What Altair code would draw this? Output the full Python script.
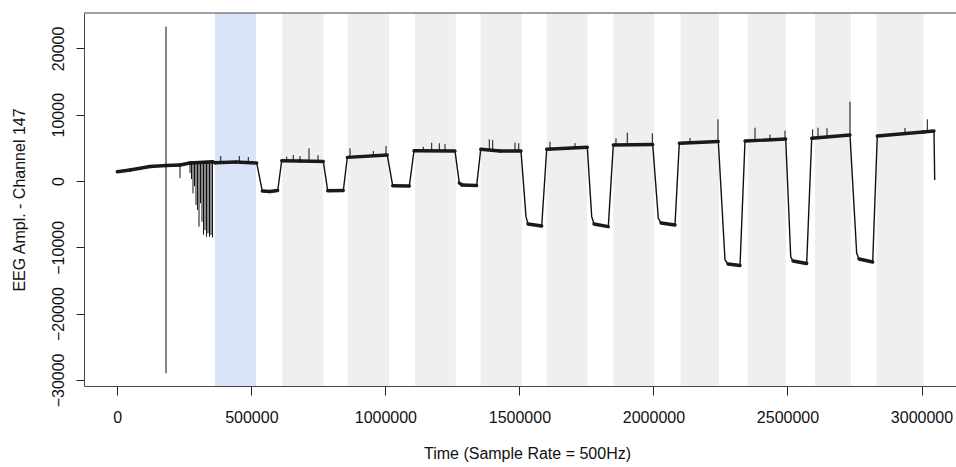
import altair as alt
import pandas as pd

# Stimulation blocks (sample index); first block is the baseline period
baseline_start = [364500]
baseline_end = [517400]
block_start = [615500, 859500, 1110500, 1355600, 1601800, 1850300, 2101700, 2351600, 2602700, 2832800]
block_end = [768500, 1013600, 1262400, 1508600, 1753300, 2003200, 2244600, 2494500, 2737000, 3006700]

# Slow envelope of the EEG trace (sample index, amplitude)
trace_x = [0, 47400, 122000, 181700, 233900, 271200, 355100, 364500, 442800, 520000,
           540900, 569600, 598400, 613300, 681500, 768500, 784900, 843100, 858000, 1007200,
           1027300, 1089300, 1106800, 1259800, 1275800, 1285800, 1340700, 1355600, 1427600, 1505900,
           1524600, 1532000, 1583200, 1601800, 1753300, 1769700, 1778300, 1831600, 1850300, 1997300,
           2018200, 2028200, 2080400, 2096500, 2242000, 2267000, 2278200, 2323000, 2341600, 2493400,
           2512100, 2520600, 2571700, 2590400, 2733200, 2758200, 2766800, 2817900, 2835000, 3006700,
           3046600, 3049200]
trace_y = [1400, 1660, 2190, 2340, 2410, 2720, 2900, 2760, 2870, 2720,
           -1510, -1580, -1430, 3060, 3020, 2940, -1460, -1430, 3570, 3920,
           -710, -750, 4570, 4520, -300, -600, -680, 4780, 4520, 4520,
           -5380, -6490, -6790, 4780, 5080, -5380, -6490, -6890, 5430, 5510,
           -5630, -6330, -6640, 5690, 5960, -11920, -12520, -12750, 6030, 6330,
           -11420, -12070, -12440, 6440, 6940, -10900, -11760, -12220, 6790, 7390,
           7540, 150]

# Short artefact spikes on top of the envelope (sample index, low, high)
spike_x = [181700, 233900,
           271200, 276800, 282400, 288000, 293600, 299200, 304800, 310400, 316000,
           321600, 327200, 332800, 338300, 343900, 349500, 355100,
           385700, 455100, 488700,
           631900, 656500, 681500, 715100, 748700,
           868100, 955000, 1002400,
           1141500, 1172800, 1201200, 1222400,
           1387700, 1400400, 1483600, 1497400,
           1614100, 1707400,
           1860300, 1902500, 1995800,
           2136400, 2240800,
           2378900, 2434800, 2490800,
           2594100, 2613900, 2647500, 2733200,
           2938400, 3021600]
spike_lo = [-29000, 450,
            1200, 300, -1860, -800, -3620, -4370, -6890, -3360, -6140,
            -8100, -7400, -8400, -7890, -8400, -8140, -8500,
            2800, 2850, 2800,
            3050, 3040, 3020, 3000, 2960,
            3600, 3750, 3900,
            4550, 4550, 4540, 4530,
            4700, 4700, 4550, 4550,
            4800, 5000,
            5430, 5440, 5500,
            5700, 5950,
            6050, 6150, 6300,
            6450, 6470, 6550, 6940,
            7300, 7450]
spike_hi = [23300, 2400,
            2900, 2900, 2900, 2900, 2900, 2900, 2900, 2900, 2900,
            2900, 2900, 2900, 2900, 2900, 2900, 2900,
            3770, 3770, 3620,
            3670, 3920, 3770, 4930, 3900,
            4930, 4520, 5280,
            5170, 5780, 5690, 5580,
            6290, 6180, 5780, 5690,
            5930, 5700,
            6440, 7290, 7190,
            6500, 9300,
            8040, 7000, 7590,
            7800, 8040, 7950, 11960,
            8000, 9300]

x_ticks = [0, 500000, 1000000, 1500000, 2000000, 2500000, 3000000]
y_ticks = [-30000, -20000, -10000, 0, 10000, 20000]

FONT = "Liberation Sans"
W, H = 872, 373
X_DOMAIN = [-124220, 3128660]
Y_DOMAIN = [-30920, 25340]

trace = pd.DataFrame({"t": trace_x, "amp": trace_y})
spikes = pd.DataFrame({"t": spike_x, "lo": spike_lo, "hi": spike_hi})
blocks = pd.DataFrame({"start": block_start, "end": block_end})
baseline = pd.DataFrame({"start": baseline_start, "end": baseline_end})

# Stretches where the signal sits on a level (not a fast transition) carry
# visible high-frequency noise, so they are drawn with a heavier stroke.
px_x = W / (X_DOMAIN[1] - X_DOMAIN[0])
px_y = H / (Y_DOMAIN[1] - Y_DOMAIN[0])
seg_rows = []
for (t0, a0), (t1, a1) in zip(zip(trace_x, trace_y), zip(trace_x[1:], trace_y[1:])):
    if abs(a1 - a0) * px_y < abs(t1 - t0) * px_x:
        seg_rows.append({"t": t0, "t2": t1, "a": a0, "a2": a1})
levels = pd.DataFrame(seg_rows)

xs = alt.Scale(domain=X_DOMAIN, nice=False, zero=False)
ys = alt.Scale(domain=Y_DOMAIN, nice=False, zero=False)

x_axis = alt.Axis(
    values=x_ticks, format="d", grid=False, tickSize=9, tickColor="#222",
    domainColor="#444", labelFont=FONT, labelFontSize=16, labelColor="#111",
    labelAngle=0, labelAlign="center", labelBaseline="alphabetic", labelPadding=27.5,
    title="Time (Sample Rate = 500Hz)", titleFont=FONT, titleFontSize=16,
    titleFontWeight="normal", titleColor="#111", titleX=443, titleY=72.5,
    titleAlign="center", titleBaseline="alphabetic", labelFlush=False, labelOverlap=False,
)
y_axis = alt.Axis(
    values=y_ticks, format="d", grid=False, tickSize=8, tickColor="#222",
    domainColor="#444", labelFont=FONT, labelFontSize=16, labelColor="#111",
    labelAngle=270, labelAlign="center", labelBaseline="alphabetic", labelPadding=13,
    title="EEG Ampl. - Channel 147", titleFont=FONT, titleFontSize=16,
    titleFontWeight="normal", titleColor="#111", titleAngle=270, titleX=-60,
    titleY=H / 2, titleAlign="center", titleBaseline="alphabetic",
    labelFlush=False, labelOverlap=False,
)

block_layer = alt.Chart(blocks).mark_rect(color="#efefef").encode(
    x=alt.X("start:Q", scale=xs, axis=x_axis), x2="end:Q"
)
baseline_layer = alt.Chart(baseline).mark_rect(color="#dae4f7").encode(
    x=alt.X("start:Q", scale=xs, axis=x_axis), x2="end:Q"
)
trace_layer = alt.Chart(trace).mark_line(color="#111", strokeWidth=1.4).encode(
    x=alt.X("t:Q", scale=xs, axis=x_axis),
    y=alt.Y("amp:Q", scale=ys, axis=y_axis),
)
level_layer = alt.Chart(levels).mark_rule(color="#1a1a1a", strokeWidth=3.4, strokeCap="round").encode(
    x=alt.X("t:Q", scale=xs, axis=x_axis),
    x2="t2:Q",
    y=alt.Y("a:Q", scale=ys, axis=y_axis),
    y2="a2:Q",
)
spike_layer = alt.Chart(spikes).mark_rule(color="#111", strokeWidth=1).encode(
    x=alt.X("t:Q", scale=xs, axis=x_axis),
    y=alt.Y("lo:Q", scale=ys, axis=y_axis),
    y2="hi:Q",
)
top_frame = alt.Chart(pd.DataFrame({"k": [0]})).mark_rule(color="#444", strokeWidth=1).encode(
    y=alt.value(0)
)

chart = alt.layer(
    block_layer, baseline_layer, trace_layer, level_layer, spike_layer, top_frame
).properties(
    width=W, height=H,
    autosize=alt.AutoSizeParams(type="none"),
    padding={"left": 84, "top": 13, "right": 0, "bottom": 76},
    background="white",
).configure_view(stroke=None)

chart.save("out.html", embed_options={"renderer": "svg", "actions": False})
